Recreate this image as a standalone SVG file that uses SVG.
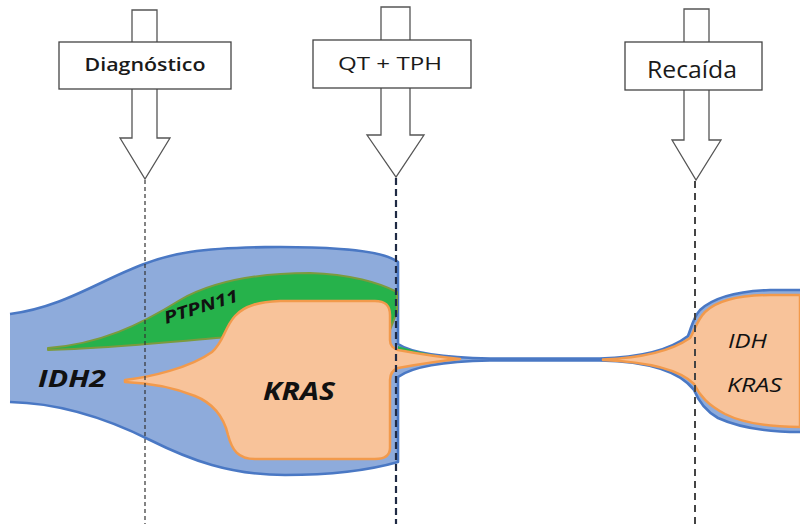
<svg xmlns="http://www.w3.org/2000/svg" width="800" height="524" viewBox="0 0 800 524">
<style>
.blue{fill:#8eabdb;stroke:none}
.blueline{fill:none;stroke:#4a78c4;stroke-width:2.6;stroke-linejoin:round}
.orange{fill:#f8c39a;stroke:#f29a4c;stroke-width:2.5;stroke-linejoin:round}
.green{fill:#26b24b;stroke:#7c9a3e;stroke-width:2;stroke-linejoin:round}
.arrow{fill:#fff;stroke:#555;stroke-width:1.3}
.box{fill:#fff;stroke:#444;stroke-width:1.3}
.lbl{font-family:"Open Sans","Liberation Sans",sans-serif;fill:#1a1a1a;text-anchor:middle}
.gene{font-family:"Open Sans","Liberation Sans",sans-serif;fill:#111;font-style:italic}
.dash{fill:none}
</style>
<rect width="800" height="524" fill="#fff"/>
<g id="clones">
  <path class="blue" d="M10,314 C80,305 120,262 190,252 C230,246 300,246 340,249 C370,251 390,256 398,262 L398,344 C410,352 440,357.5 490,358.5 L600,358.5 C640,357.5 670,350 688,336 C692,326 693,318 700,310 C715,296 740,291 770,290 L800,290 L800,432 C770,432 740,428 718,418 C704,410 698,400 694,390 C680,372 650,361.5 600,360.5 L490,360.5 C440,361.5 410,368 398,377 L398,462 C370,470 330,475 285,475 C230,475 190,460 150,440 C110,420 60,403 10,402 Z"/>
  <path class="blueline" d="M10,314 C80,305 120,262 190,252 C230,246 300,246 340,249 C370,251 390,256 398,262 L398,344 C410,352 440,357.5 490,358.5 L600,358.5 C640,357.5 670,350 688,336 C692,326 693,318 700,310 C715,296 740,291 770,290 L800,290 M800,432 C770,432 740,428 718,418 C704,410 698,400 694,390 C680,372 650,361.5 600,360.5 L490,360.5 C440,361.5 410,368 398,377 L398,462 C370,470 330,475 285,475 C230,475 190,460 150,440 C110,420 60,403 10,402"/>
  <path class="green" d="M48,348 C100,344 140,325 180,300 C215,280 260,273 310,273 C350,274 380,283 397,292 L397,312 L390,330 L228,337 C160,343 100,349 48,350 Z"/>
  <path d="M398,346 C410,350 425,353 440,356 L398,353 Z" fill="#26b24b"/>
  <path class="orange" d="M125,380 C150,377 190,368 212,352 C224,342 224,328 235,316 C245,305 260,302 280,301 L375,301 C386,301 390,306 390,315 L390,340 C390,346 393,348 398,350 C420,354 440,357 460,359 C440,361 420,364 398,368 C393,370 390,373 390,380 L390,448 C390,456 384,459 375,459 L255,459 C238,459 232,450 228,435 C224,418 215,404 195,396 C175,388 150,383 125,382 Z"/>
  <path class="orange" d="M603,359.5 C640,358 670,352 690,338 C695,330 697,320 705,312 C720,298 745,295 770,295 L800,295 L800,427 C770,427 745,424 725,414 C708,405 700,396 694,384 C680,370 650,362 603,360 Z"/>
  <text class="gene" x="38" y="387" font-size="24" font-weight="bold" textLength="68" lengthAdjust="spacingAndGlyphs">IDH2</text>
  <text class="gene" x="263" y="400" font-size="25" font-weight="bold" textLength="72" lengthAdjust="spacingAndGlyphs">KRAS</text>
  <text class="gene" x="0" y="0" font-size="17" font-weight="bold" font-style="normal" textLength="77" lengthAdjust="spacingAndGlyphs" transform="translate(166,324) rotate(-17.5)">PTPN11</text>
  <text class="gene" x="728" y="348" font-size="20" textLength="39" lengthAdjust="spacingAndGlyphs">IDH</text>
  <text class="gene" x="727" y="392" font-size="20" textLength="55" lengthAdjust="spacingAndGlyphs">KRAS</text>
</g>
<g id="connectors">
  <line class="dash" x1="145" y1="180" x2="145" y2="524" stroke="#333" stroke-width="1.2" stroke-dasharray="4,3"/>
  <line class="dash" x1="396" y1="178" x2="396" y2="524" stroke="#1f2a44" stroke-width="2.2" stroke-dasharray="7,4"/>
  <line class="dash" x1="695" y1="181" x2="695" y2="524" stroke="#444" stroke-width="2" stroke-dasharray="7,5"/>
</g>
<g id="diagnostico">
  <path class="arrow" d="M132,10 L157,10 L157,138 L170,138 L145,179 L120,138 L132,138 Z"/>
  <rect class="box" x="59" y="42" width="172" height="47"/>
  <text class="lbl" x="145" y="71" font-size="18" font-weight="600" textLength="121" lengthAdjust="spacingAndGlyphs">Diagnóstico</text>
</g>
<g id="qt-tph">
  <path class="arrow" d="M381,7 L410,7 L410,135 L424,135 L396,177 L367,135 L381,135 Z"/>
  <rect class="box" x="313" y="40" width="158" height="48"/>
  <text class="lbl" x="390" y="70" font-size="18.5" textLength="104" lengthAdjust="spacingAndGlyphs">QT + TPH</text>
</g>
<g id="recaida">
  <path class="arrow" d="M684,9 L709,9 L709,140 L721,140 L696,180 L672,140 L684,140 Z"/>
  <rect class="box" x="625" y="42" width="137" height="48"/>
  <text class="lbl" x="692" y="78" font-size="24" textLength="90" lengthAdjust="spacingAndGlyphs">Recaída</text>
</g>
</svg>
